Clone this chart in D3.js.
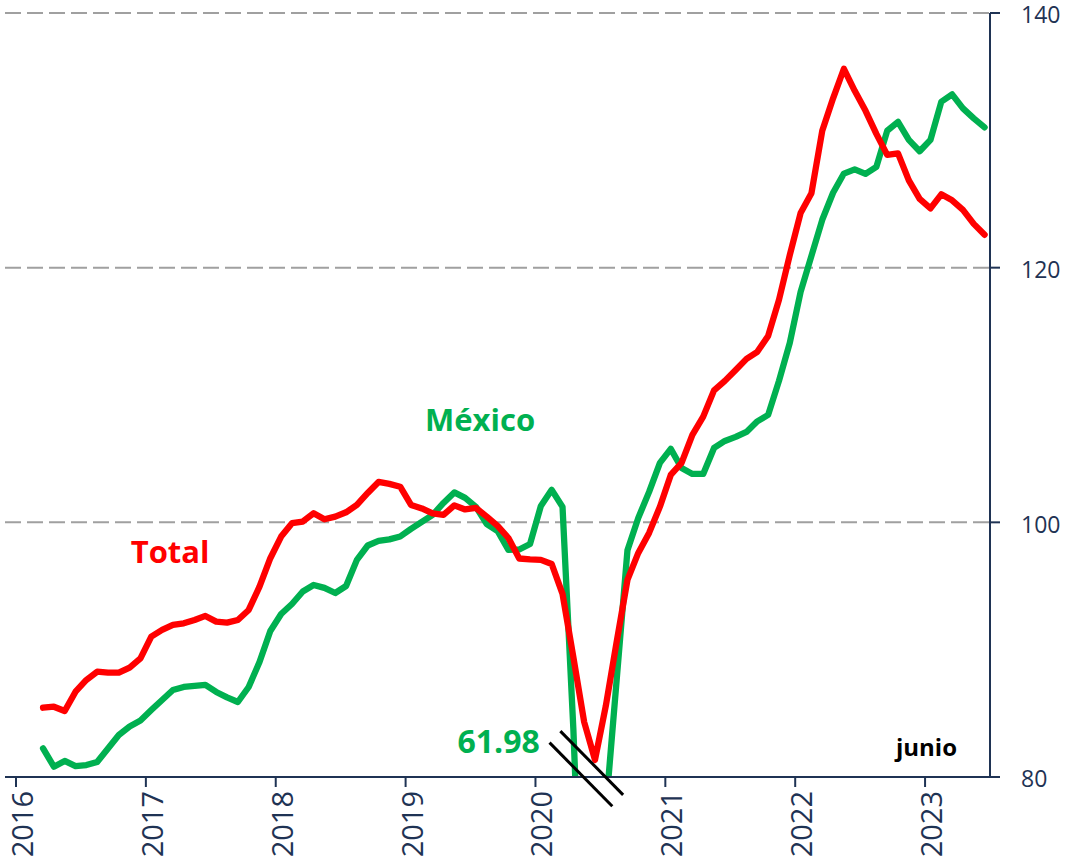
<!DOCTYPE html>
<head>
<meta charset="utf-8">
<script src="https://d3js.org/d3.v7.min.js"></script>
<style>
  body { margin: 0; background: #fff; }
  svg { display: block; }
  text { font-family: 'Open Sans', sans-serif; }
</style>
</head>
<body>
<div id="vis"></div>
<script>
// months counted from Jan 2016; first value is Mar 2016 (month 2), last Jun 2023 (month 89)
const firstMonth = 2
const yearLabels = ['2016', '2017', '2018', '2019', '2020', '2021', '2022', '2023']
const yTicks = [80, 100, 120, 140]

const total = [
  85.44, 85.52, 85.18, 86.70, 87.62, 88.27, 88.19, 88.19, 88.59, 89.32,
  91.02, 91.55, 91.94, 92.07, 92.33, 92.65, 92.20, 92.12, 92.33, 93.12, 94.95, 97.18,
  98.88, 99.93, 100.06, 100.72, 100.24, 100.45, 100.79, 101.37, 102.31, 103.17, 103.02, 102.80,
  101.37, 101.09, 100.70, 100.58, 101.33, 101.01, 101.13, 100.45, 99.72, 98.77, 97.16, 97.09,
  97.05, 96.73, 94.38, 89.43, 84.32, 81.34, 85.58, 90.6, 95.48, 97.6, 99.17, 101.23,
  103.72, 104.67, 106.87, 108.30, 110.36, 111.11, 111.97, 112.84, 113.39, 114.64, 117.47, 121.0,
  124.30, 125.84, 130.75, 133.30, 135.62, 133.89, 132.32, 130.51, 128.86, 128.98, 126.86, 125.40,
  124.66, 125.76, 125.29, 124.54, 123.44, 122.58
]

const mexico = [
  82.25, 80.81, 81.26, 80.86, 80.94, 81.18, 82.24, 83.30, 83.97, 84.44,
  85.26, 86.05, 86.83, 87.07, 87.15, 87.23, 86.68, 86.25, 85.89, 87.07, 89.03, 91.47,
  92.80, 93.59, 94.57, 95.08, 94.85, 94.45, 95.00, 97.05, 98.18, 98.54, 98.66, 98.89,
  99.48, 100.03, 100.58, 101.52, 102.35, 101.92, 101.21, 99.87, 99.32, 97.83, 97.87, 98.30,
  101.29, 102.55, 101.21, 83.8, 61.98, 70.5, 77.4, 87.6, 97.8, 100.35, 102.39, 104.67,
  105.77, 104.27, 103.80, 103.80, 105.84, 106.39, 106.71, 107.10, 107.93, 108.44, 111.11, 114.09,
  118.1, 120.93, 123.76, 125.88, 127.39, 127.72, 127.37, 127.92, 130.75, 131.45, 130.04, 129.14,
  130.04, 133.03, 133.61, 132.51, 131.73, 131.02
]

const minMexico = 61.98

const width = 1071
const height = 868
const axisColor = '#1f3354'

const x = d3.scaleLinear().domain([0, 90]).range([16, 990])
const y = d3.scaleLinear().domain([80, 140]).range([777, 13])

const svg = d3.select('#vis').append('svg')
  .attr('width', width)
  .attr('height', height)

svg.append('defs').append('clipPath').attr('id', 'plot')
  .append('rect')
  .attr('x', 0).attr('y', 0)
  .attr('width', x(90)).attr('height', y(80))

// dashed gridlines
svg.append('g')
  .selectAll('line')
  .data(yTicks.filter(d => d > 80))
  .join('line')
  .attr('x1', 5).attr('x2', x(90))
  .attr('y1', d => y(d)).attr('y2', d => y(d))
  .attr('stroke', '#a0a0a0')
  .attr('stroke-width', 2)
  .attr('stroke-dasharray', '16,6')

// lines
const line = d3.line()
  .x((d, i) => x(firstMonth + i + 0.5))
  .y(d => y(d))

const plot = svg.append('g').attr('clip-path', 'url(#plot)')

plot.append('path')
  .datum(mexico)
  .attr('d', line)
  .attr('fill', 'none')
  .attr('stroke', '#00b050')
  .attr('stroke-width', 6.3)
  .attr('stroke-linejoin', 'round')
  .attr('stroke-linecap', 'round')

plot.append('path')
  .datum(total)
  .attr('d', line)
  .attr('fill', 'none')
  .attr('stroke', '#ff0000')
  .attr('stroke-width', 6.3)
  .attr('stroke-linejoin', 'round')
  .attr('stroke-linecap', 'round')

// x axis
const xAxis = svg.append('g').attr('transform', `translate(0,${y(80)})`)
xAxis.append('line')
  .attr('x1', 5).attr('x2', x(90) + 10)
  .attr('stroke', axisColor).attr('stroke-width', 2)
xAxis.selectAll('.tick')
  .data(yearLabels)
  .join('line')
  .attr('x1', (d, i) => x(i * 12)).attr('x2', (d, i) => x(i * 12))
  .attr('y1', 0).attr('y2', 10)
  .attr('stroke', axisColor).attr('stroke-width', 2)
xAxis.selectAll('text')
  .data(yearLabels)
  .join('text')
  .attr('transform', (d, i) => `translate(${x(i * 12) + 17},14) rotate(-90)`)
  .attr('text-anchor', 'end')
  .attr('fill', axisColor)
  .style('font-size', '29px')
  .text(d => d)

// y axis on the right
const yAxis = svg.append('g').attr('transform', `translate(${x(90)},0)`)
yAxis.append('line')
  .attr('y1', y(140)).attr('y2', y(80))
  .attr('stroke', axisColor).attr('stroke-width', 2)
yAxis.selectAll('.tick')
  .data(yTicks)
  .join('line')
  .attr('x1', 0).attr('x2', 10)
  .attr('y1', d => y(d)).attr('y2', d => y(d))
  .attr('stroke', axisColor).attr('stroke-width', 2)
yAxis.selectAll('text')
  .data(yTicks)
  .join('text')
  .attr('x', 31)
  .attr('y', d => y(d) + 2)
  .attr('dy', '0.36em')
  .attr('fill', axisColor)
  .style('font-size', '23px')
  .text(d => d)

// series labels
svg.append('text')
  .attr('x', x(10.6)).attr('y', y(96.8))
  .attr('fill', '#ff0000')
  .style('font-weight', 'bold').style('font-size', '31px')
  .text('Total')

svg.append('text')
  .attr('x', x(37.8)).attr('y', y(107.2))
  .attr('fill', '#00b050')
  .style('font-weight', 'bold').style('font-size', '31px')
  .text('México')

// minimum annotation with axis-break marks
svg.append('text')
  .attr('x', x(48.4)).attr('y', y(81.86))
  .attr('text-anchor', 'end')
  .attr('fill', '#00b050')
  .style('font-weight', 'bold').style('font-size', '32px')
  .text(minMexico.toFixed(2))

const breaks = svg.append('g')
breaks.append('line')
  .attr('x1', x(49.3)).attr('y1', y(82.7))
  .attr('x2', x(55.1)).attr('y2', y(77.7))
  .attr('stroke', '#000').attr('stroke-width', 3)
breaks.append('line')
  .attr('x1', x(50.3)).attr('y1', y(83.6))
  .attr('x2', x(56.1)).attr('y2', y(78.6))
  .attr('stroke', '#000').attr('stroke-width', 3)

svg.append('text')
  .attr('x', x(90) - 33).attr('y', y(81.65))
  .attr('text-anchor', 'end')
  .attr('fill', '#000')
  .style('font-weight', 'bold').style('font-size', '24px')
  .text('junio')
</script>
</body>
